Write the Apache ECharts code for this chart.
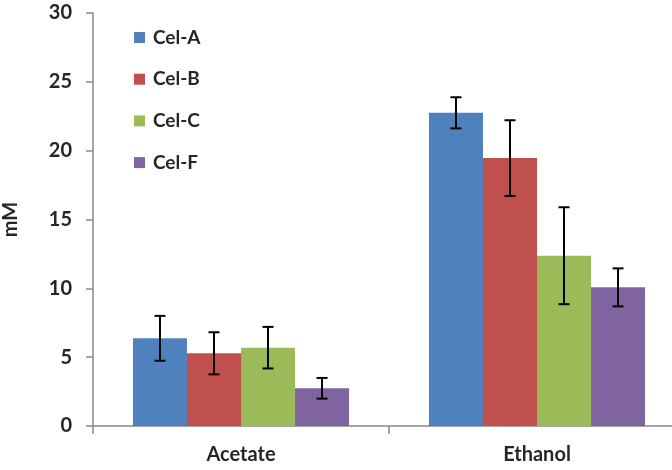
<!DOCTYPE html>
<html><head><meta charset="utf-8">
<script src="https://cdn.jsdelivr.net/npm/echarts@6/dist/echarts.min.js"></script>
<style>html,body{margin:0;padding:0;background:#fff}#c{width:672px;height:470px}</style>
</head><body><div id="c"></div>
<script>
const categories = ['Acetate', 'Ethanol'];
const seriesNames = ['Cel-A', 'Cel-B', 'Cel-C', 'Cel-F'];
const celA = [6.37, 22.75];
const celB = [5.28, 19.46];
const celC = [5.69, 12.37];
const celF = [2.74, 10.07];
const errA = [1.63, 1.13];
const errB = [1.53, 2.75];
const errC = [1.51, 3.52];
const errF = [0.75, 1.38];
const yTicks = [0, 5, 10, 15, 20, 25, 30];

const values = [celA, celB, celC, celF];
const errors = [errA, errB, errC, errF];
const colors = ['#4F81BD', '#C0504D', '#9BBB59', '#8064A2'];
const font = 'Lato, "Open Sans", sans-serif';
const catGap = 0.27;

const chart = echarts.init(document.getElementById('c'));
const series = [];
values.forEach((v, i) => {
  series.push({
    name: seriesNames[i], type: 'bar', data: v,
    itemStyle: { color: colors[i] },
    barGap: '0%', barCategoryGap: (catGap * 100) + '%'
  });
});
values.forEach((v, i) => {
  series.push({
    type: 'custom', name: seriesNames[i] + ' err',
    data: v.map((m, j) => [j, m - errors[i][j], m + errors[i][j]]),
    z: 10,
    renderItem: (params, api) => {
      const ci = api.value(0);
      const lo = api.coord([ci, api.value(1)]);
      const hi = api.coord([ci, api.value(2)]);
      const band = api.size([1, 0])[0];
      const bw = band * (1 - catGap) / 4;
      const x = lo[0] + (i - 1.5) * bw;
      const cap = 5.5;
      const st = { stroke: '#000', lineWidth: 2 };
      return { type: 'group', children: [
        { type: 'line', shape: { x1: x, y1: lo[1], x2: x, y2: hi[1] }, style: st },
        { type: 'line', shape: { x1: x - cap, y1: lo[1], x2: x + cap, y2: lo[1] }, style: st },
        { type: 'line', shape: { x1: x - cap, y1: hi[1], x2: x + cap, y2: hi[1] }, style: st }
      ]};
    },
    encode: { x: 0, y: [1, 2] },
    tooltip: { show: false }
  });
});

chart.setOption({
  animation: false,
  grid: { left: 93, right: -13, top: 13, bottom: 44, containLabel: false, outerBoundsMode: 'none' },
  legend: {
    data: seriesNames, orient: 'vertical', left: 134, top: 28, padding: 0,
    itemWidth: 11, itemHeight: 11, itemGap: 22.7,
    textStyle: { fontFamily: font, fontWeight: 'bold', fontSize: 19, color: '#262626', padding: [0, 0, 0, 3] },
    icon: 'rect'
  },
  xAxis: {
    type: 'category', data: categories,
    axisLine: { lineStyle: { color: '#888', width: 1.5 } },
    axisTick: { show: true, length: 8, lineStyle: { color: '#888', width: 1.5 } },
    axisLabel: { fontFamily: font, fontWeight: 'bold', fontSize: 20, color: '#262626', margin: 19 }
  },
  yAxis: {
    type: 'value', min: yTicks[0], max: yTicks[yTicks.length - 1], interval: 5,
    name: 'mM', nameLocation: 'middle', nameGap: 72,
    nameTextStyle: { fontFamily: font, fontWeight: 'bold', fontSize: 20, color: '#262626' },
    axisLine: { show: true, lineStyle: { color: '#888', width: 1.5 } },
    axisTick: { show: true, length: 7, lineStyle: { color: '#888', width: 1.5 } },
    splitLine: { show: false },
    axisLabel: { fontFamily: font, fontWeight: 'bold', fontSize: 20, color: '#262626', margin: 21 }
  },
  series: series
});
</script></body></html>
